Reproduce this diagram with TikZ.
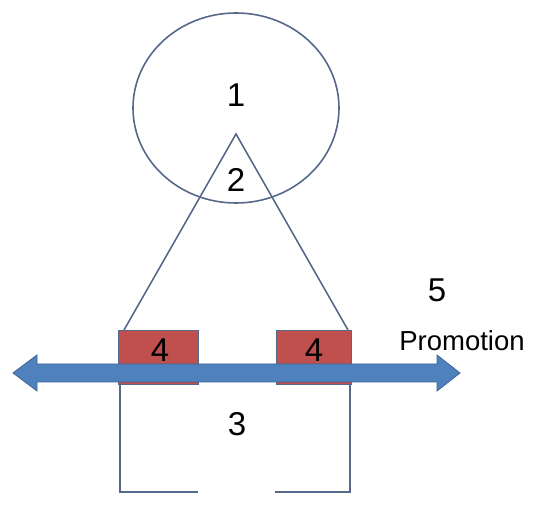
\documentclass[tikz,border=0pt]{standalone}
\usepackage{fontspec}
\setmainfont{Liberation Sans}
\definecolor{strokec}{HTML}{56698A}
\definecolor{redf}{HTML}{C0504D}
\definecolor{bluef}{HTML}{4F81BD}
\definecolor{blued}{HTML}{3C6494}
\begin{document}
\begin{tikzpicture}[x=1pt,y=-1pt,
  line/.style={draw=strokec,line width=1.6pt},
  redbox/.style={fill=redf,draw=strokec,line width=0.8pt},
  num/.style={font=\fontsize{33}{36}\selectfont,inner sep=0pt},
  lab/.style={font=\fontsize{27.5}{30}\selectfont,inner sep=0pt}]
\useasboundingbox (0,0) rectangle (536,526);
% circle
\draw[line] (236,108) ellipse [x radius=103, y radius=95];
% triangle
\coordinate (apex) at (236,134);
\coordinate (bl) at (124,330);
\coordinate (br) at (348,330);
\draw[line] (bl) -- (apex) -- (br);
% bracket
\draw[line] (198,492) -- (120,492) -- (120,384);
\draw[line] (275,492) -- (350,492) -- (350,384);
% red boxes
\draw[redbox] (118,330) rectangle (198,384);
\draw[redbox] (276,330) rectangle (351,384);
% double arrow
\draw[fill=bluef,draw=blued,line width=0.8pt]
  (13,373) -- (37,355) -- (37,364) -- (437,364) -- (437,355) -- (460,373)
  -- (437,391) -- (437,382) -- (37,382) -- (37,391) -- cycle;
% labels
\node[num] (n1) at (236,95) {1};
\node[num] (n2) at (236,180) {2};
\node[num] (n4a) at (160,350) {4};
\node[num] (n4b) at (314,350) {4};
\node[num] (n3) at (237,424) {3};
\node[num] (n5) at (437,290) {5};
\node[lab] (promo) at (462,341) {Promotion};
\end{tikzpicture}
\end{document}
